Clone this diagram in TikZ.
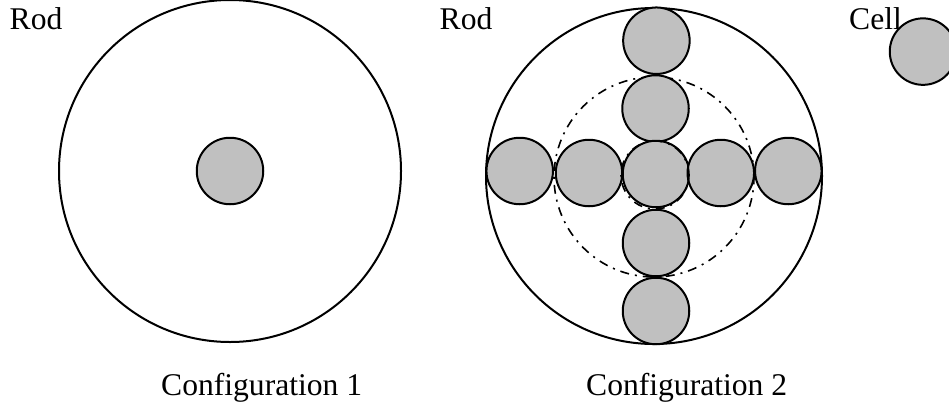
\documentclass[tikz,border=0pt]{standalone}
\usepackage{fontspec}
\setmainfont{Liberation Serif}
\definecolor{rodgray}{gray}{0.753}
\tikzset{
  bigc/.style={circle,draw=black,line width=2pt,fill=white,inner sep=0pt,outer sep=0pt,minimum size=#1},
  rodc/.style={circle,draw=black,line width=2pt,fill=rodgray,inner sep=0pt,outer sep=0pt,minimum size=66.5pt},
  dashc/.style={circle,draw=black,line width=1.6pt,inner sep=0pt,outer sep=0pt,minimum size=#1,dash pattern=on 9pt off 6pt on 2pt off 6pt},
  lab/.style={inner sep=0pt,font=\fontsize{31.6}{36}\selectfont,anchor=base west}
}
\begin{document}
\begin{tikzpicture}[x=1pt,y=-1pt]
\useasboundingbox (0,0) rectangle (949,405);
\clip (0,0) rectangle (949,405);
\node[bigc=342pt] (outerA) at (230,171) {};
\node[rodc] (rodA) at (230,171) {};
\node[bigc=336pt] (outerB) at (654,176) {};
\node[dashc=200pt] (midB) at (654,177) {};
\node[rodc] (r1) at (656.4,40.7) {};
\node[rodc] (r2) at (655.5,108.5) {};
\node[rodc] (r3) at (656,174) {};
\node[rodc] (r4) at (656,243) {};
\node[rodc] (r5) at (656,311) {};
\node[rodc] (l1) at (519.7,171) {};
\node[rodc] (l2) at (589,173) {};
\node[rodc] (l3) at (720.8,173) {};
\node[rodc] (l4) at (788.3,171) {};
\node[dashc=68pt] (innerB) at (655,175) {};
\node[lab] (t1) at (9.5,29) {Rod};
\node[lab] (t2) at (439.5,29) {Rod};
\node[lab] (t3) at (849,29) {Cell};
\node[rodc] (cell) at (923,51.6) {};
\node[lab] (t4) at (161,395) {Configuration 1};
\node[lab] (t5) at (586,395) {Configuration 2};
\end{tikzpicture}
\end{document}
